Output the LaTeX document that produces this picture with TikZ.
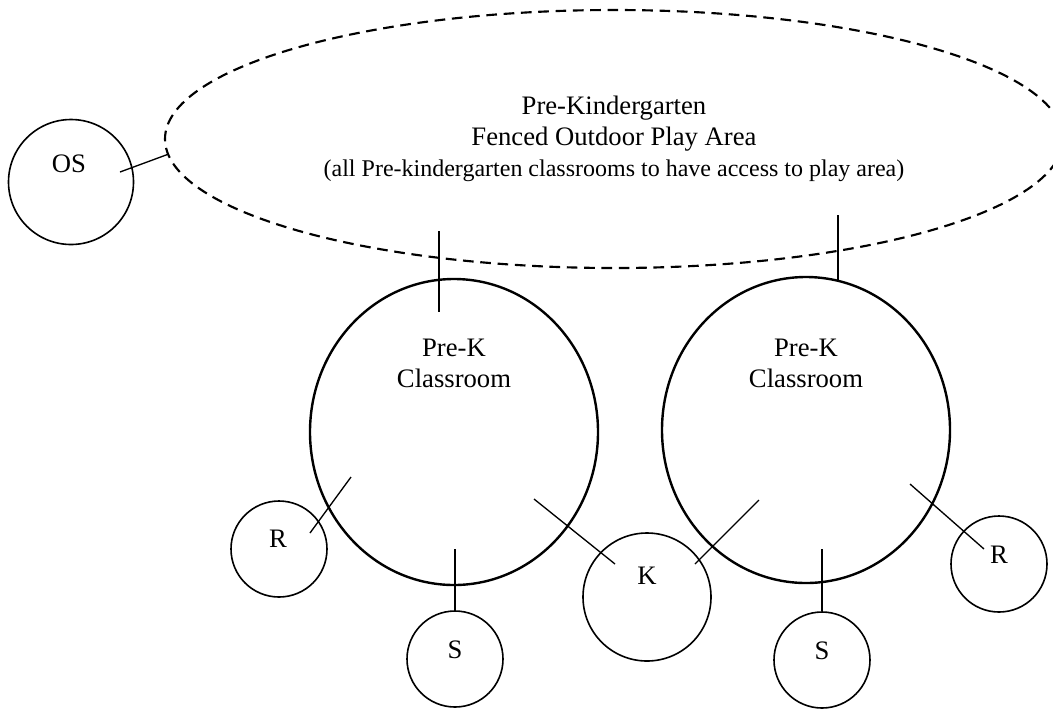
\documentclass[tikz,border=0pt]{standalone}
\usepackage{fontspec}
\setmainfont{Liberation Serif}
\usetikzlibrary{shapes.geometric,calc}
\newcommand{\roomfont}{\fontsize{20}{23.25}\selectfont}
\newcommand{\notefont}{\fontsize{18}{23.25}\selectfont}

\begin{document}
\begin{tikzpicture}[x=0.75pt,y=0.75pt,yscale=-1,xscale=1,
  fence/.style={ellipse,draw,dash pattern={on 8pt off 5pt},line width=1.6pt,minimum width=673.5pt,minimum height=193.5pt,inner sep=0pt,align=center,font=\roomfont},
  classroom/.style={ellipse,draw,line width=1.8pt,minimum width=216pt,minimum height=229.5pt,inner sep=0pt},
  spot/.style={circle,draw,line width=1.2pt,minimum size=72pt,inner sep=0pt},
  link/.style={line width=1pt},
  tag/.style={font=\roomfont,align=center,inner sep=0pt}]
\useasboundingbox (0,0) rectangle (1053,708);
\clip (0,0) rectangle (1053,708);

%Shape: Ellipse [play area]
\node[fence] (play) at (614,139) {Pre-Kindergarten\\Fenced Outdoor Play Area\\{\notefont (all Pre-kindergarten classrooms to have access to play area)}};

%Shape: Circle [outdoor storage]
\node[spot,minimum size=93.75pt] (os) at (71,182) {};
%Shape: Ellipse [classrooms]
\node[classroom] (clsL) at (454,432) {};
\node[classroom] (clsR) at (806,430) {};
%Shape: Circle [small rooms]
\node[spot] (rL) at (279,549) {};
\node[spot] (sL) at (455,659) {};
\node[spot,minimum size=96pt] (kC) at (647,597) {};
\node[spot] (sR) at (822,660) {};
\node[spot] (rR) at (999,564) {};

%Straight Lines
\draw[link] ($(os)+(49,-10)$) -- (play.182);
\draw[link] ($(play)+(-175,92)$) -- ($(clsL)+(-15,-120)$);
\draw[link] ($(play)+(224,76)$) -- ($(clsR)+(32,-149)$);
\draw[link] ($(rL)+(31,-16)$) -- ($(clsL)+(-103,45)$);
\draw[link] ($(clsL)+(1,117)$) -- (sL.north);
\draw[link] ($(clsL)+(80,67)$) -- ($(kC)+(-32,-33)$);
\draw[link] ($(kC)+(48,-33)$) -- ($(clsR)+(-47,70)$);
\draw[link] ($(clsR)+(16,119)$) -- (sR.north);
\draw[link] ($(clsR)+(104,54)$) -- ($(rR)+(-15,-15)$);

% Text Node
\node[tag] (osTxt) at (69,164) {OS};
\node[tag] (clsLTxt) at (454,363) {Pre-K\\Classroom};
\node[tag] (clsRTxt) at (806,363) {Pre-K\\Classroom};
\node[tag] (rLTxt) at (278,539) {R};
\node[tag] (sLTxt) at (455,650) {S};
\node[tag] (kTxt) at (647,576) {K};
\node[tag] (sRTxt) at (822,651) {S};
\node[tag] (rRTxt) at (999,555) {R};

\end{tikzpicture}
\end{document}
